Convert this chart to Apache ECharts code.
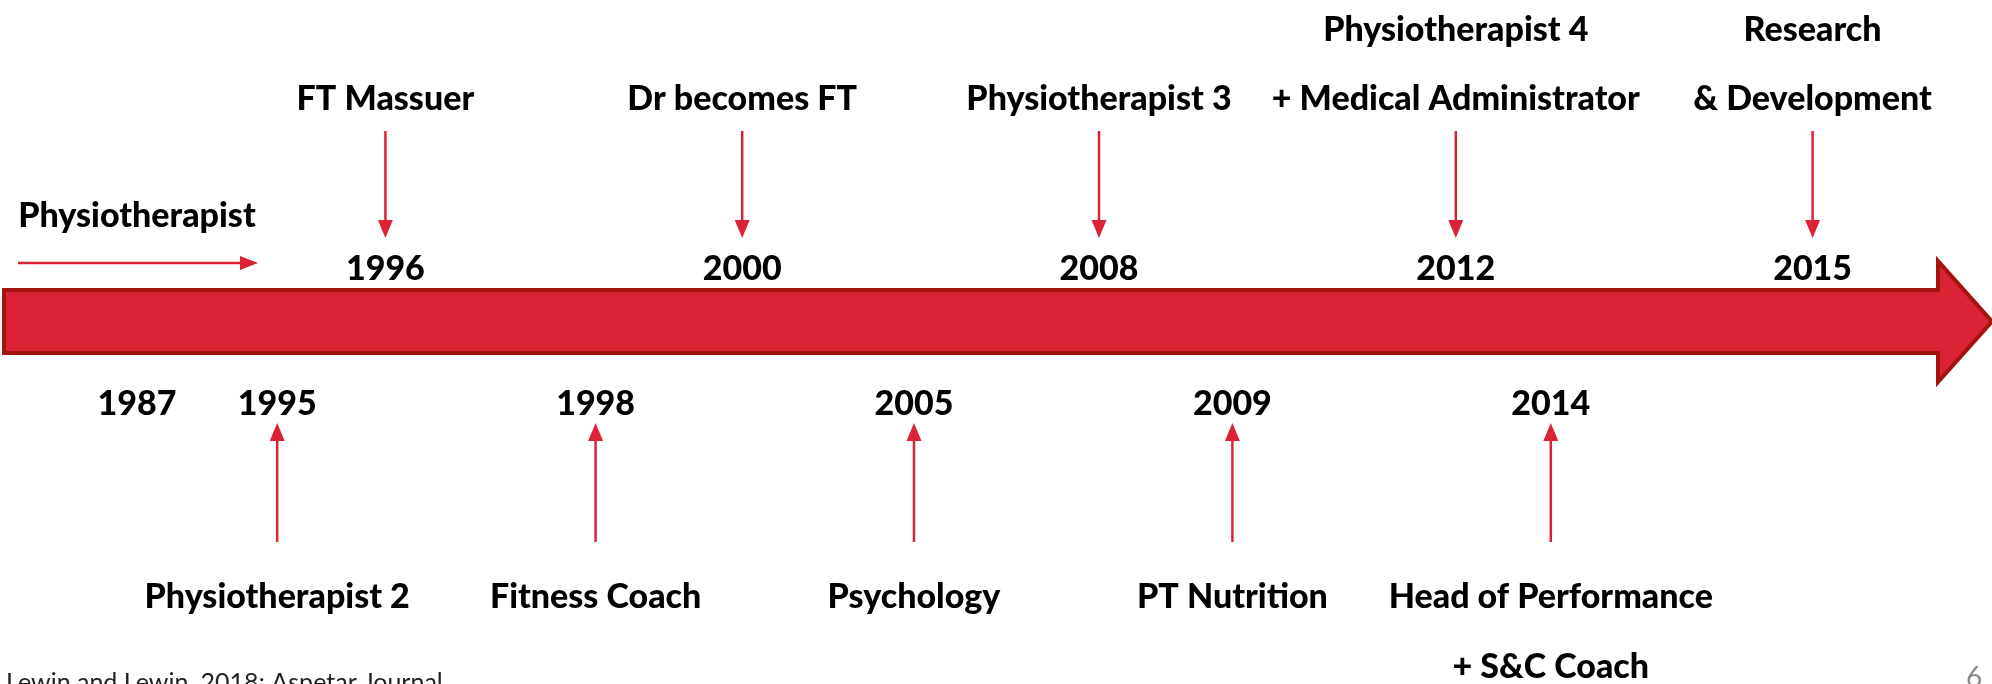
<!DOCTYPE html>
<html>
<head>
<meta charset="utf-8">
<script src="https://cdn.jsdelivr.net/npm/echarts@6/dist/echarts.min.js"></script>
<style>
html, body { margin: 0; padding: 0; background: #fff; }
#chart { width: 1992px; height: 684px; }
</style>
</head>
<body>
<div id="chart"></div>
<script>
// events above the timeline
var topYears = ['1996', '2000', '2008', '2012', '2015']
var topRoles = ['FT Massuer', 'Dr becomes FT', 'Physiotherapist 3', 'Physiotherapist 4\n+ Medical Administrator', 'Research\n& Development']
// events below the timeline
var bottomYears = ['1995', '1998', '2005', '2009', '2014']
var bottomRoles = ['Physiotherapist 2', 'Fitness Coach', 'Psychology', 'PT Nutrition', 'Head of Performance\n+ S&C Coach']
// where it all starts
var startYear = '1987'
var startRole = 'Physiotherapist'
var source = 'Lewin and Lewin, 2018; Aspetar Journal'
var slideNo = '6'

var RED = '#dc2335'
var DARK = '#a3140f'
var FONT = 'Lato'

function label (x, y, text, extra) {
  var style = {
    text: text,
    fill: '#000',
    fontFamily: FONT,
    fontWeight: 900,
    fontSize: 34,
    align: 'center',
    verticalAlign: 'middle'
  }
  for (var k in extra) style[k] = extra[k]
  return { type: 'text', x: x, y: y, style: style }
}

function renderTimeline (params, api) {
  var cs = params.coordSys
  var x0 = cs.x
  var x1 = cs.x + cs.width
  var y0 = cs.y
  var h = cs.height
  var head = 54
  var st = y0 + h * 0.24
  var sb = y0 + h * 0.76
  var pts = [[x0, st], [x1 - head, st], [x1 - head, y0], [x1, y0 + h / 2],
    [x1 - head, y0 + h], [x1 - head, sb], [x0, sb]]
  var ax = x0 + 14
  var bx = x0 + 254
  var ay = 263
  return {
    type: 'group',
    children: [
      { type: 'polygon', shape: { points: pts }, style: { fill: RED, stroke: DARK, lineWidth: 4, lineJoin: 'miter' } },
      { type: 'line', shape: { x1: ax, y1: ay, x2: bx - 16, y2: ay }, style: { stroke: RED, lineWidth: 2.5 } },
      { type: 'polygon', shape: { points: [[bx - 18, ay - 7], [bx, ay], [bx - 18, ay + 7]] }, style: { fill: RED } },
      label(x0 + 133, 216, startRole),
      label(x0 + 133, 404, startYear)
    ]
  }
}

function renderTop (params, api) {
  var i = params.dataIndex
  var x = api.coord([api.value(0), 0])[0]
  return {
    type: 'group',
    children: [
      { type: 'line', shape: { x1: x, y1: 131, x2: x, y2: 222 }, style: { stroke: RED, lineWidth: 2.5 } },
      { type: 'polygon', shape: { points: [[x - 7.5, 220], [x + 7.5, 220], [x, 238]] }, style: { fill: RED } },
      label(x, 269, topYears[i]),
      label(x, 134, topRoles[i], { verticalAlign: 'bottom', lineHeight: 69 })
    ]
  }
}

function renderBottom (params, api) {
  var i = params.dataIndex
  var x = api.coord([api.value(0), 0])[0]
  return {
    type: 'group',
    children: [
      { type: 'line', shape: { x1: x, y1: 439, x2: x, y2: 542 }, style: { stroke: RED, lineWidth: 2.5 } },
      { type: 'polygon', shape: { points: [[x - 7.5, 441], [x + 7.5, 441], [x, 423]] }, style: { fill: RED } },
      label(x, 404, bottomYears[i]),
      label(x, 562, bottomRoles[i], { verticalAlign: 'top', lineHeight: 70 })
    ]
  }
}

var chart = echarts.init(document.getElementById('chart'))
var option = {
  animation: false,
  backgroundColor: '#fff',
  grid: [
    { left: 207, width: 1784, top: 0, height: 290 },
    { left: 118, width: 1592, top: 353, height: 331 },
    { left: 4, width: 1997, top: 261, height: 121 }
  ],
  xAxis: [
    { type: 'category', gridIndex: 0, data: topYears, show: false },
    { type: 'category', gridIndex: 1, data: bottomYears, show: false },
    { type: 'value', gridIndex: 2, min: 0, max: 1, show: false }
  ],
  yAxis: [
    { type: 'value', gridIndex: 0, min: 0, max: 1, show: false },
    { type: 'value', gridIndex: 1, min: 0, max: 1, show: false },
    { type: 'value', gridIndex: 2, min: 0, max: 1, show: false }
  ],
  graphic: [
    { type: 'text', left: 6, top: 670, style: { text: source, fill: '#222', fontFamily: FONT, fontSize: 25 } },
    { type: 'text', left: 1966, top: 664, style: { text: slideNo, fill: '#888', fontFamily: FONT, fontSize: 28 } }
  ],
  series: [
    {
      type: 'custom',
      xAxisIndex: 2,
      yAxisIndex: 2,
      renderItem: renderTimeline,
      data: [[0, 0]],
      silent: true
    },
    {
      type: 'custom',
      xAxisIndex: 0,
      yAxisIndex: 0,
      renderItem: renderTop,
      data: topYears.map(function (y, i) { return [i, 0] }),
      silent: true
    },
    {
      type: 'custom',
      xAxisIndex: 1,
      yAxisIndex: 1,
      renderItem: renderBottom,
      data: bottomYears.map(function (y, i) { return [i, 0] }),
      silent: true
    }
  ]
}
chart.setOption(option)
</script>
</body>
</html>
